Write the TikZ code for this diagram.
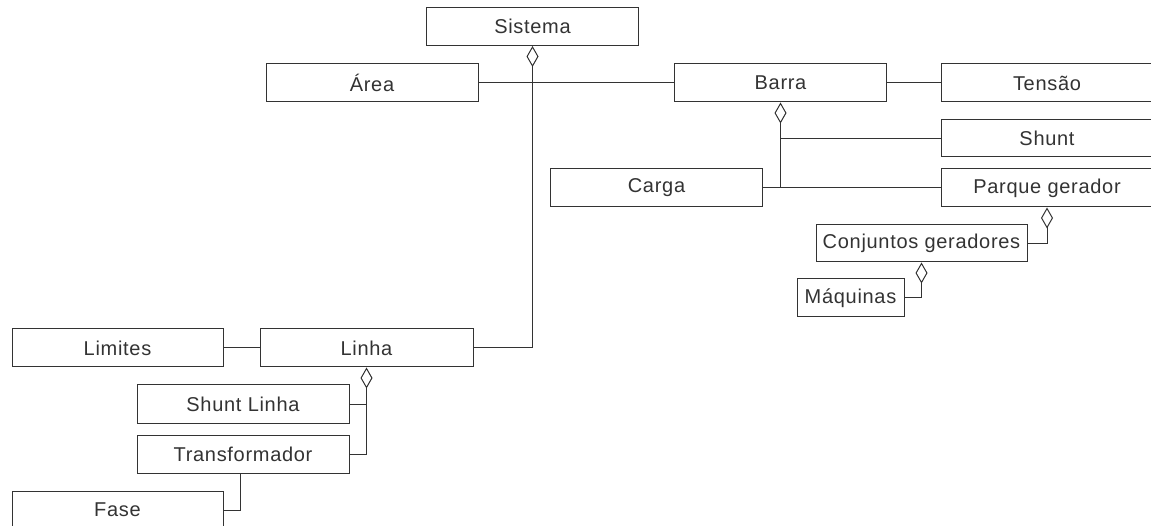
\documentclass[tikz,border=0pt]{standalone}
\usepackage{fontspec}
\setmainfont{Liberation Sans}[LetterSpace=3.5]
\usetikzlibrary{arrows.meta}
\begin{document}
\begin{tikzpicture}[x=1pt,y=-1pt,
  line width=1pt,
  wire/.style={draw=black!80},
  cls/.style={draw=black!80, line width=1pt, fill=white, minimum width=212pt,
    minimum height=38pt, inner sep=0pt, text=black!80,
    font=\fontsize{20}{24}\selectfont},
  agg/.style={wire, -{Diamond[open,length=21pt,width=12pt,line width=1pt]}}]
\useasboundingbox (0,0) rectangle (1151,526);
\clip (0,0) rectangle (1151,526);

% classes
\node[cls] (sis) at (532.5,26.5) {Sistema};
\node[cls] (area) at (372,83) {Área};
\node[cls] (barra) at (780.5,83) {Barra};
\node[cls] (tensao) at (1047,83) {Tensão};
\node[cls, minimum height=37pt] (shunt) at (1047,138.5) {Shunt};
\node[cls] (parque) at (1047,188) {Parque gerador};
\node[cls] (carga) at (656.5,188) {Carga};
\node[cls, minimum width=211pt, minimum height=37pt] (conj) at (921.5,243.5) {Conjuntos geradores};
\node[cls, minimum width=107pt] (maq) at (850.5,298) {Máquinas};
\node[cls, minimum width=211pt] (lim) at (117.5,348) {Limites};
\node[cls, minimum width=213pt] (linha) at (366.5,348) {Linha};
\node[cls] (slinha) at (243,404) {Shunt Linha};
\node[cls] (transf) at (243,454) {Transformador};
\node[cls, minimum width=211pt] (fase) at (117.5,510) {Fase};

% associations
\draw[wire] (area.east) -- (barra.west);
\draw[wire] (barra.east) -- (tensao.west);
\draw[wire] (lim.east) -- (linha.west);
\draw[wire] (carga.east) -- (parque.west);
\draw[wire] (fase.east) -| ([xshift=-3pt]transf.south);

% aggregations
\draw[agg] (linha.east) -| (sis.south);
\coordinate (bj) at (barra.south |- carga.east);
\draw[agg] (bj) -- (barra.south);
\draw[wire] (shunt.west) -- (shunt.west -| bj);
\draw[agg] (conj.east) -| (parque.south);
\draw[agg] (maq.east) -| (conj.south);
\draw[agg] (transf.east) -| (linha.south);
\draw[wire] (slinha.east) -- (slinha.east -| linha.south);
\end{tikzpicture}
\end{document}
